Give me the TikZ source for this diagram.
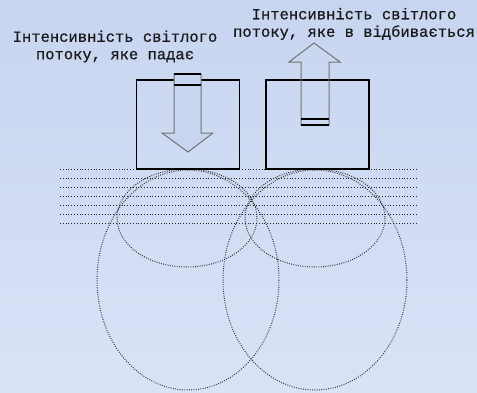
\documentclass[tikz,border=0pt]{standalone}
\usepackage{fontspec}
\newfontfamily\labelfont[FakeBold=0.6]{Liberation Mono}
\usetikzlibrary{positioning}
\definecolor{bgtop}{RGB}{200,213,240}
\definecolor{bgbottom}{RGB}{217,227,247}

\begin{document}
\begin{tikzpicture}[x=1pt, y=-1pt, line width=0.5pt,
cell/.style={draw, line width=1.6pt, minimum width=103pt, minimum height=89pt, inner sep=0pt},
ray/.style={draw=black!55, line width=1pt, line join=miter},
rayend/.style={draw=black, line width=1.2pt},
layer/.style={draw=black!85, line width=1pt, dash pattern=on 1pt off 1.8pt},
spot/.style={draw=black!80, line width=1pt, dash pattern=on 0.9pt off 1.4pt},
caption/.style={font=\labelfont\fontsize{15.5}{17.5}\selectfont, align=center, text=black!90}]

\useasboundingbox (0,0) rectangle (477,392);
\shade [top color=bgtop, bottom color=bgbottom] (0,0) rectangle (477,392);

% layers of the medium
\foreach \y in {169,178,...,223}
  \draw [layer] (60,\y) -- (417,\y);

% scattering zones
\draw [spot] (187,218) ellipse [x radius=70, y radius=49];
\draw [spot] (315,218) ellipse [x radius=70, y radius=49];
\draw [spot] (188,280) ellipse [x radius=91, y radius=110];
\draw [spot] (315,280) ellipse [x radius=92, y radius=110];

% source and detector
\node [cell] (inbox) at (188,124.5) {};
\node [cell] (outbox) [right=25pt of inbox] {};

% incident flux
\filldraw [ray, fill=bgtop] (174,74) -- (174,133) -- (162,133) -- (188,152)
  -- (213,133) -- (201,133) -- (201,74) -- cycle;
\draw [rayend] (174,74) -- (201,74);
\draw [rayend] (174,85) -- (201,85);

% reflected flux
\draw [ray] (301,125) -- (301,62) -- (289,62) -- (314,43)
  -- (340,62) -- (329,62) -- (329,125) -- cycle;
\draw [rayend] (301,119) -- (329,119);
\draw [rayend] (301,125) -- (329,125);

\node [caption] (intext) at (115,46.5) {Інтенсивність світлого\\потоку, яке падає};
\node [caption] (outtext) at (354,24) {Інтенсивність світлого\\потоку, яке в відбивається};
\end{tikzpicture}
\end{document}
